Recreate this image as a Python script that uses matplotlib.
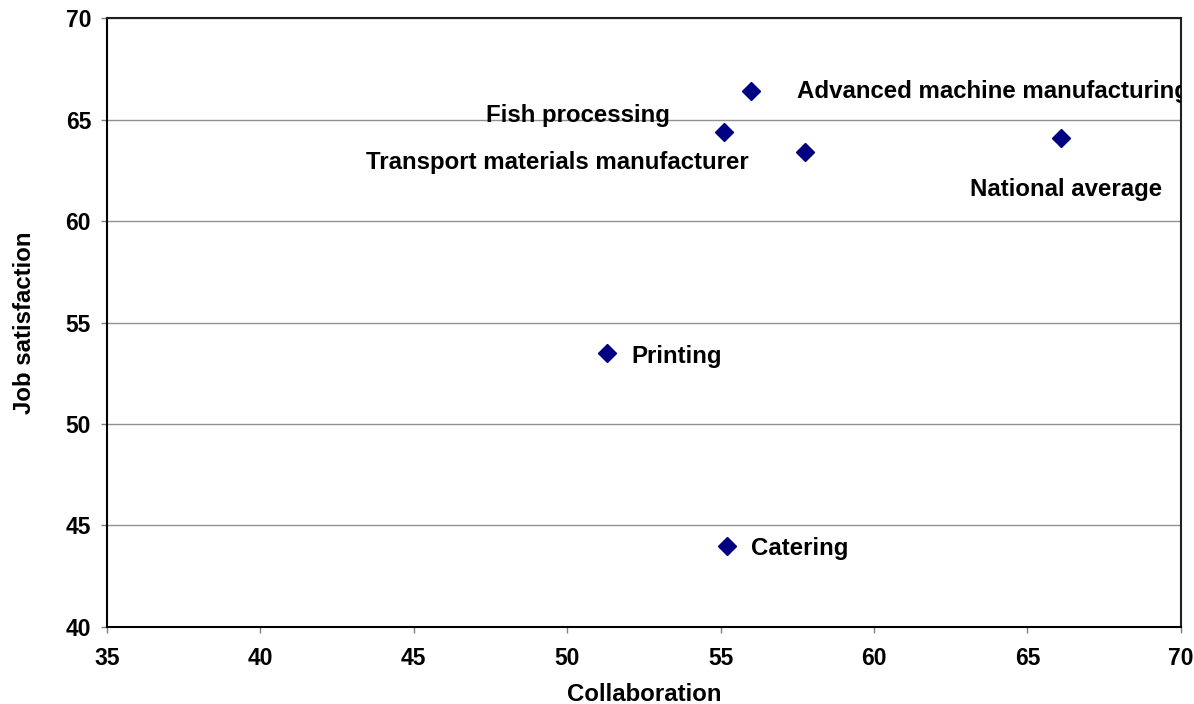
import matplotlib.pyplot as plt

# Donnees
sectors = ["Advanced machine manufacturing", "Fish processing",
           "Transport materials manufacturer", "National average",
           "Printing", "Catering"]
collaboration = [56.0, 55.1, 57.75, 66.1, 51.3, 55.2]
satisfaction = [66.4, 64.4, 63.4, 64.1, 53.5, 44.0]

# decalage des etiquettes (pixels) et alignement
label_offsets = [(46, 0, "left"), (-54, 16, "right"), (-56, -11, "right"),
                 (5, -52, "center"), (24, -4, "left"), (24, -3, "left")]

plt.rcParams['font.family'] = ['Liberation Sans', 'DejaVu Sans']

fig = plt.figure(figsize=(11.94, 7.04), dpi=100)
ax = fig.add_axes([0.0896, 0.1094, 0.8994, 0.865])

ax.plot(collaboration, satisfaction, linestyle='none', marker='D',
        markersize=9, color='#000080', zorder=3)

for name, x, y, (dx, dy, ha) in zip(sectors, collaboration, satisfaction, label_offsets):
    t = ax.annotate(name, (x, y), xytext=(dx, dy), textcoords='offset pixels',
                    ha=ha, va='center', fontsize=17.3, fontweight='bold')
    # le texte est coupe au bord de la zone de trace, comme dans Excel
    t.set_clip_path(ax.patch)

ax.set_xlim(35, 70)
ax.set_ylim(40, 70)
ax.set_xticks(range(35, 71, 5))
ax.set_yticks(range(40, 71, 5))
ax.grid(axis='y', color='#909090', linewidth=1)
ax.set_axisbelow(True)

for side in ['top', 'right']:
    ax.spines[side].set_linewidth(1.5)
    ax.spines[side].set_color('#202020')
for side in ['left', 'bottom']:
    ax.spines[side].set_linewidth(1.5)
ax.tick_params(axis='both', direction='out', length=4.5, color='#808080',
               labelsize=16.5, width=1)
for lbl in ax.get_xticklabels() + ax.get_yticklabels():
    lbl.set_fontweight('bold')
ax.tick_params(axis='x', pad=10)
ax.tick_params(axis='y', pad=7)

ax.set_xlabel("Collaboration", fontsize=17.3, fontweight='bold', labelpad=9.5)
ax.set_ylabel("Job satisfaction", fontsize=17.3, fontweight='bold', labelpad=21.5)

fig.savefig("out.png", dpi=100)
